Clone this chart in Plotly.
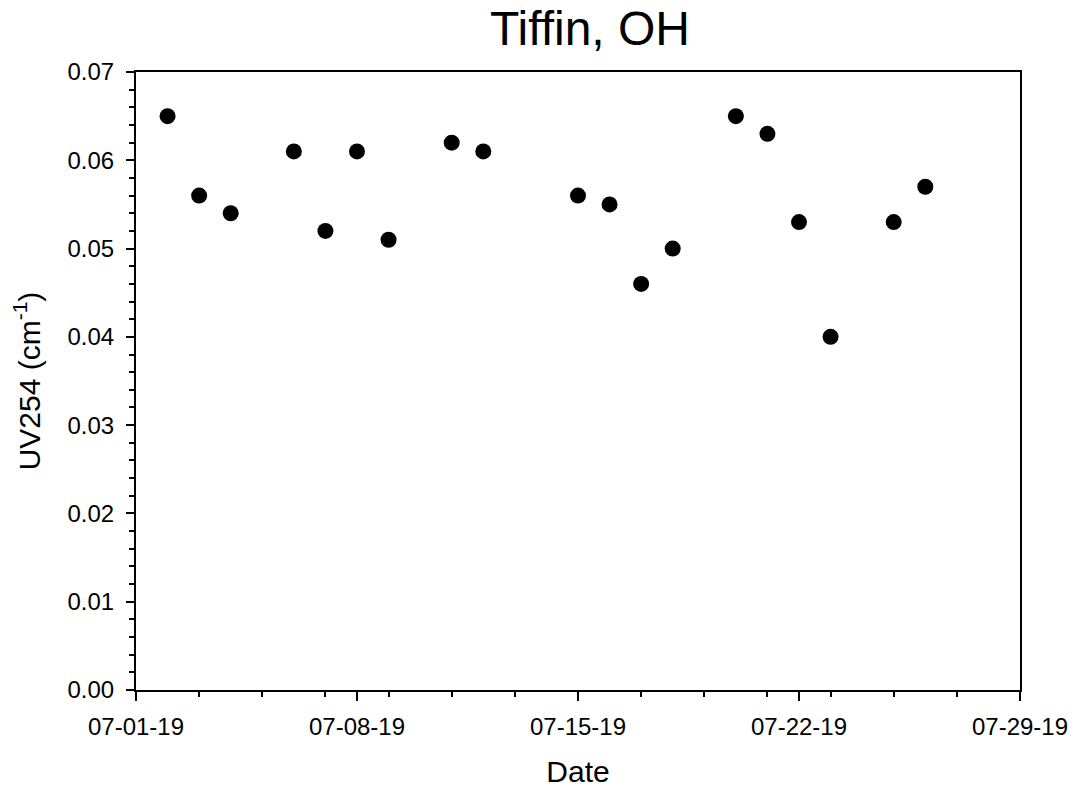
import plotly.graph_objects as go

dates = ["2019-07-02", "2019-07-03", "2019-07-04", "2019-07-06", "2019-07-07",
         "2019-07-08", "2019-07-09", "2019-07-11", "2019-07-12", "2019-07-15",
         "2019-07-16", "2019-07-17", "2019-07-18", "2019-07-20", "2019-07-21",
         "2019-07-22", "2019-07-23", "2019-07-25", "2019-07-26"]
uv254 = [0.065, 0.056, 0.054, 0.061, 0.052, 0.061, 0.051, 0.062, 0.061, 0.056,
         0.055, 0.046, 0.050, 0.065, 0.063, 0.053, 0.040, 0.053, 0.057]

title_text = "Tiffin, OH"
x_title = "Date"
y_title = "UV254 (cm<sup>-1</sup>)"
x_range = ["2019-07-01", "2019-07-29"]
y_range = [0, 0.07]

font_family = "Liberation Sans, Arial, sans-serif"

fig = go.Figure()
fig.add_trace(go.Scatter(
    x=dates, y=uv254, mode="markers",
    marker=dict(color="black", size=16, line=dict(width=0)),
    showlegend=False,
))

DAY = 86400000
fig.update_layout(
    width=1073, height=788,
    margin=dict(l=136, r=53, t=72, b=98, autoexpand=False),
    paper_bgcolor="white", plot_bgcolor="white",
    font=dict(family=font_family, color="black", size=24),
    title=dict(text=title_text, font=dict(size=48, family=font_family, color="black"),
               xref="container", yref="container", x=590/1073, y=1 - 28/788,
               xanchor="center", yanchor="middle"),
    xaxis=dict(
        type="date", range=x_range, automargin=False,
        tick0="2019-07-01", dtick=7 * DAY, tickformat="%m-%d-%y",
        ticks="outside", ticklen=9, tickwidth=1.5, tickcolor="black",
        ticklabelstandoff=5,
        showline=True, linewidth=2, linecolor="black", mirror=True,
        showgrid=False, zeroline=False,
        tickfont=dict(size=24),
        title=dict(text=x_title, font=dict(size=30), standoff=30),
        minor=dict(tick0="2019-07-01", dtick=2 * DAY, ticks="outside", ticklen=5,
                   tickwidth=1.5, tickcolor="black", showgrid=False),
    ),
    yaxis=dict(
        range=y_range, dtick=0.01, tick0=0, tickformat=".2f", automargin=False,
        ticks="outside", ticklen=8, tickwidth=1.5, tickcolor="black",
        ticklabelstandoff=7,
        showline=True, linewidth=2, linecolor="black", mirror=True,
        showgrid=False, zeroline=False,
        tickfont=dict(size=24),
        title=dict(text=y_title, font=dict(size=30), standoff=18),
        minor=dict(dtick=0.002, ticks="outside", ticklen=5, tickwidth=1.5,
                   tickcolor="black", showgrid=False),
    ),
    yaxis2=dict(
        overlaying="y", side="left", range=y_range, dtick=0.01, tick0=0,
        ticks="inside", ticklen=9, tickwidth=1.5, tickcolor="black",
        automargin=False,
        showticklabels=False, showline=False, showgrid=False, zeroline=False,
    ),
)

fig.write_html("out.html")
